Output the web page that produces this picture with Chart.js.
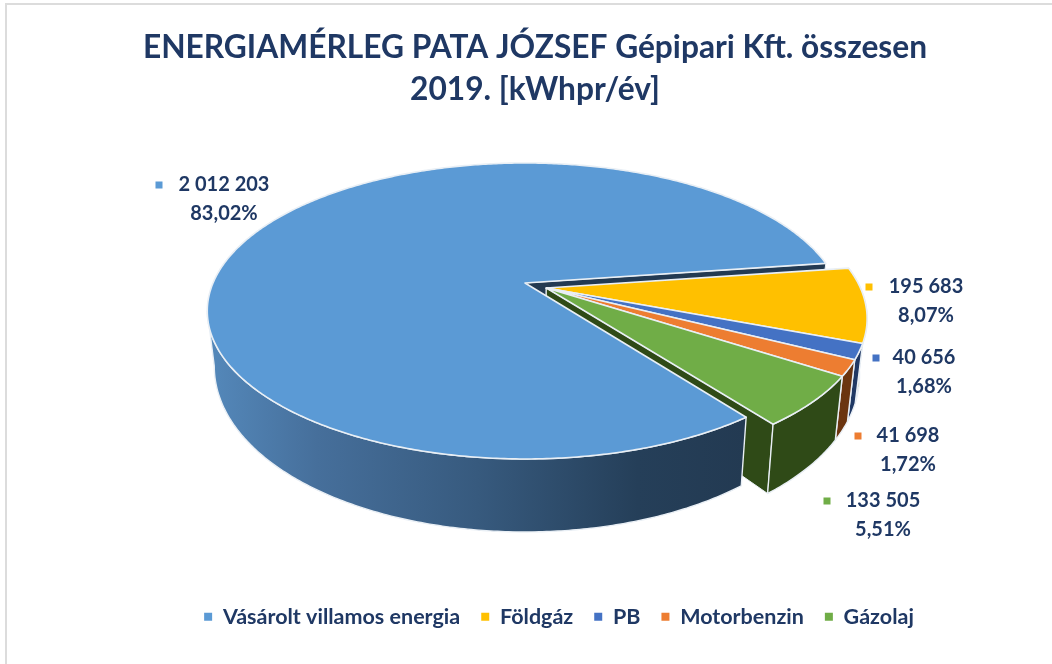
<!DOCTYPE html>
<html><head><meta charset="utf-8">
<style>
html,body{margin:0;padding:0;background:#fff;overflow:hidden}
#frame{position:absolute;left:5px;top:3px;width:1047px;height:661px;border-left:2px solid #dcdcdc;border-top:2px solid #dcdcdc;box-sizing:border-box}
canvas{position:absolute;left:0;top:0}
</style>
<script src="https://cdn.jsdelivr.net/npm/chart.js@4/dist/chart.umd.min.js"></script>
</head><body>
<div id="frame"></div>
<canvas id="c" width="1052" height="664"></canvas>
<script>
const categories = ['Vásárolt villamos energia','Földgáz','PB','Motorbenzin','Gázolaj'];
const values = [2012203,195683,40656,41698,133505];
const titleLines = ['ENERGIAMÉRLEG PATA JÓZSEF Gépipari Kft. összesen','2019. [kWhpr/év]'];
const colors = ['#5b9ad5','#ffc000','#4472c4','#ed7d31','#70ad47'];
const wallColors = ['#233a52','#7f6000','#203864','#6b3510','#2f4a17'];

const NAVY = '#1f3864';
const FONT = 'Lato';
// projection of the tilted pie
const P = {cx:525, cy:283, rx:312, ry:142.7, persp:0.189, depthBase:51, depthFront:22, shrink:0.978};
// explosion of each slice in the pie's own plane
const EX = [0,.068,.068,.068,.068], EY = [0,.035,.035,.035,.035];
// label anchor: [text centre x, first line y, marker x]
const LABEL_POS = [[224,185,159],[926,287,869],[924,358,876],[908,436,858],[883,501,827]];

function proj(x,y,bottom){
  const w = 1 - P.persp*y;
  return [P.cx + (bottom?P.shrink:1)*P.rx*x/w, P.cy + P.ry*y/w + (bottom?P.depthBase+P.depthFront*y:0)];
}
function rimPoints(i,a,b,bottom){
  const pts=[], n=Math.max(2,Math.ceil((b-a)/0.01));
  for(let k=0;k<=n;k++){const t=a+(b-a)*k/n;pts.push(proj(EX[i]+Math.cos(t),EY[i]+Math.sin(t),bottom));}
  return pts;
}
function poly(ctx,pts,fill,stroke,lw){
  ctx.beginPath();pts.forEach((p,k)=>k?ctx.lineTo(p[0],p[1]):ctx.moveTo(p[0],p[1]));ctx.closePath();
  ctx.fillStyle=fill;ctx.fill();
  if(stroke){ctx.strokeStyle=stroke;ctx.lineWidth=lw;ctx.lineJoin='round';ctx.stroke();}
}
const EDGE='#e9eff5';
const pie3d={
  id:'pie3d',
  afterLayout(chart){
    const t=chart.titleBlock; t.left+=9; t.right+=9;
    const l=chart.legend; l.left+=33; l.right+=33; const h=l.bottom-l.top; l.top=585; l.bottom=585+h;
  },
  beforeDatasetDraw(chart){
    const ctx=chart.ctx, arcs=chart.getDatasetMeta(0).data;
    const apex=(i,b)=>proj(EX[i],EY[i],b);
    const endWall=(i)=>{const e=arcs[i].endAngle;
      const tp=proj(EX[i]+Math.cos(e),EY[i]+Math.sin(e),false), bt=proj(EX[i]+Math.cos(e),EY[i]+Math.sin(e),true);
      poly(ctx,[apex(i,false),tp,bt,apex(i,true)],wallColors[i],EDGE,1);};
    const top=(i)=>{const a=arcs[i];poly(ctx,[apex(i,false),...rimPoints(i,a.startAngle,a.endAngle,false)],colors[i],EDGE,1.6);};
    const rim=(i,fill,end)=>{const a=arcs[i];const e=end||a.endAngle;
      poly(ctx,[...rimPoints(i,a.startAngle,e,false),...rimPoints(i,a.startAngle,e,true).reverse()],fill||wallColors[i],EDGE,1.4);};
    ctx.save();
    endWall(0);
    for(let i=1;i<arcs.length;i++){endWall(i);rim(i);}
    for(let i=1;i<arcs.length;i++){top(i);}
    const g=ctx.createLinearGradient(210,0,745,0);
    g.addColorStop(0,'#5488ba');g.addColorStop(.2,'#466f9b');g.addColorStop(.5,'#375a7e');g.addColorStop(.8,'#253f59');g.addColorStop(1,'#233a52');
    rim(0,g,Math.PI-Math.asin(P.persp));top(0);
    ctx.restore();
    return false;
  },
  afterDatasetsDraw(chart){
    const ctx=chart.ctx,total=values.reduce((a,b)=>a+b,0);
    ctx.save();ctx.font='bold 20px '+FONT;ctx.fillStyle=NAVY;ctx.textAlign='center';ctx.textBaseline='middle';
    values.forEach((v,i)=>{
      const [x,y,mx]=LABEL_POS[i];
      ctx.fillStyle=NAVY;
      ctx.fillText(String(v).replace(/\B(?=(\d{3})+$)/g,' '),x,y);
      ctx.fillText((v/total*100).toFixed(2).replace('.',',')+'%',x,y+29);
      ctx.fillStyle=colors[i];ctx.fillRect(mx-3.5,y-3.5,7,7);
    });
    ctx.restore();
  }
};
new Chart(document.getElementById('c'),{
  type:'pie',
  data:{labels:categories,datasets:[{data:values,backgroundColor:colors,borderWidth:0}]},
  plugins:[pie3d],
  options:{
    responsive:false,animation:false,rotation:143,
    plugins:{
      tooltip:{enabled:false},
      title:{display:true,text:titleLines,color:NAVY,font:{family:FONT,weight:'bold',size:31.7,lineHeight:1.32},padding:{top:27,bottom:0}},
      legend:{position:'bottom',labels:{color:NAVY,font:{family:FONT,weight:'bold',size:21.5},usePointStyle:true,pointStyle:'rect',boxWidth:8,boxHeight:8,padding:21}}
    }
  }
});
</script>
</body></html>
